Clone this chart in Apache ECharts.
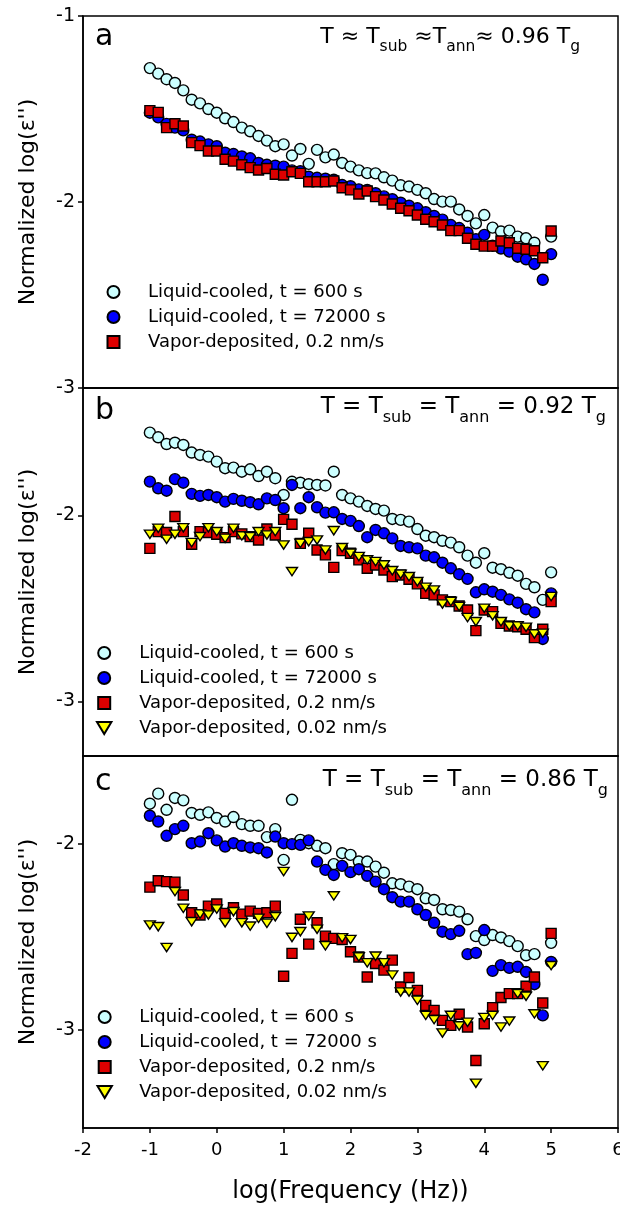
<!DOCTYPE html>
<html><head><meta charset="utf-8">
<script src="https://cdn.jsdelivr.net/npm/echarts@6/dist/echarts.min.js"></script>
<style>html,body{margin:0;padding:0;background:#fff}#c{width:620px;height:1209px}</style>
</head><body><div id="c"></div>
<script>
// log(Frequency) positions (8 points per decade)
const logFreq = [-1,-0.875,-0.75,-0.625,-0.5,-0.375,-0.25,-0.125,0,0.125,0.25,0.375,0.5,0.625,0.75,0.875,1,1.125,1.25,1.375,1.5,1.625,1.75,1.875,2,2.125,2.25,2.375,2.5,2.625,2.75,2.875,3,3.125,3.25,3.375,3.5,3.625,3.75,3.875,4,4.125,4.25,4.375,4.5,4.625,4.75,4.875,5];

// Panel a: T ≈ 0.96 Tg
const a_lc600 = [-1.28,-1.31,-1.34,-1.36,-1.40,-1.45,-1.47,-1.50,-1.52,-1.55,-1.57,-1.60,-1.62,-1.645,-1.67,-1.70,-1.69,-1.75,-1.715,-1.795,-1.72,-1.76,-1.745,-1.79,-1.81,-1.83,-1.845,-1.846,-1.867,-1.885,-1.91,-1.917,-1.935,-1.953,-1.984,-1.998,-1.998,-2.04,-2.075,-2.115,-2.07,-2.138,-2.159,-2.154,-2.186,-2.195,-2.219,null,-2.186];
const a_lc72000 = [-1.52,-1.545,-1.58,-1.60,-1.615,-1.665,-1.675,-1.69,-1.70,-1.735,-1.742,-1.755,-1.765,-1.79,-1.80,-1.805,-1.81,-1.83,-1.835,-1.864,-1.87,-1.875,-1.88,-1.909,-1.915,-1.932,-1.935,-1.953,-1.97,-1.985,-2.004,-2.02,-2.034,-2.055,-2.075,-2.095,-2.124,-2.14,-2.165,-2.20,-2.177,-2.235,-2.25,-2.267,-2.294,-2.308,-2.333,-2.418,-2.28];
const a_vd02 = [-1.509,-1.518,-1.60,-1.579,-1.591,-1.681,-1.697,-1.726,-1.726,-1.77,-1.78,-1.80,-1.815,-1.828,-1.82,-1.851,-1.855,-1.837,-1.846,-1.891,-1.891,-1.891,-1.887,-1.923,-1.935,-1.957,-1.941,-1.971,-1.989,-2.011,-2.034,-2.047,-2.07,-2.093,-2.106,-2.124,-2.154,-2.154,-2.195,-2.227,-2.237,-2.237,-2.21,-2.219,-2.249,-2.254,-2.262,-2.30,-2.156];

// Panel b: T = 0.92 Tg
const b_lc600 = [-1.556,-1.581,-1.617,-1.61,-1.622,-1.663,-1.676,-1.685,-1.712,-1.747,-1.744,-1.766,-1.753,-1.789,-1.766,-1.801,-1.891,-1.82,-1.825,-1.833,-1.837,-1.84,-1.766,-1.891,-1.909,-1.927,-1.95,-1.966,-1.975,-2.02,-2.025,-2.034,-2.074,-2.11,-2.118,-2.137,-2.147,-2.172,-2.217,-2.255,-2.204,-2.282,-2.29,-2.309,-2.325,-2.369,-2.387,-2.455,-2.307];
const b_lc72000 = [-1.819,-1.855,-1.868,-1.806,-1.825,-1.885,-1.896,-1.891,-1.903,-1.927,-1.912,-1.922,-1.93,-1.941,-1.909,-1.918,-1.962,-1.837,-1.962,-1.903,-1.957,-1.986,-1.984,-2.02,-2.03,-2.058,-2.118,-2.079,-2.097,-2.124,-2.165,-2.172,-2.178,-2.217,-2.226,-2.255,-2.285,-2.317,-2.342,-2.414,-2.398,-2.411,-2.428,-2.452,-2.47,-2.505,-2.522,-2.665,-2.42];
const b_vd02 = [-2.178,-2.088,-2.093,-2.007,-2.088,-2.156,-2.088,-2.093,-2.102,-2.12,-2.088,-2.10,-2.115,-2.133,-2.074,-2.106,-2.022,-2.048,-2.151,-2.097,-2.187,-2.213,-2.28,-2.19,-2.204,-2.24,-2.285,-2.267,-2.294,-2.33,-2.321,-2.344,-2.369,-2.42,-2.428,-2.455,-2.464,-2.488,-2.509,-2.62,-2.509,-2.518,-2.581,-2.595,-2.599,-2.613,-2.658,-2.613,-2.464];
const b_vd002 = [-2.102,-2.07,-2.129,-2.102,-2.067,-2.147,-2.115,-2.067,-2.088,-2.124,-2.07,-2.111,-2.115,-2.088,-2.106,-2.088,-2.16,-2.303,-2.151,-2.142,-2.133,-2.187,-2.083,-2.174,-2.204,-2.222,-2.24,-2.249,-2.267,-2.298,-2.317,-2.33,-2.357,-2.387,-2.402,-2.477,-2.464,-2.491,-2.55,-2.572,-2.50,-2.54,-2.572,-2.595,-2.595,-2.602,-2.638,-2.634,-2.437];

// Panel c: T = 0.86 Tg
const c_lc600 = [-1.782,-1.728,-1.815,-1.751,-1.764,-1.832,-1.842,-1.829,-1.859,-1.878,-1.854,-1.892,-1.901,-1.901,-1.962,-1.919,-2.085,-1.761,-1.977,-1.995,-2.009,-2.022,-2.108,-2.049,-2.058,-2.094,-2.094,-2.121,-2.154,-2.211,-2.216,-2.229,-2.243,-2.292,-2.301,-2.351,-2.355,-2.364,-2.405,-2.496,-2.517,-2.49,-2.503,-2.523,-2.55,-2.599,-2.593,null,-2.532];
const c_lc72000 = [-1.847,-1.878,-1.955,-1.919,-1.901,-1.995,-1.986,-1.941,-1.98,-2.013,-1.995,-2.009,-2.018,-2.022,-2.045,-1.959,-1.995,-2.0,-2.004,-1.98,-2.094,-2.139,-2.166,-2.117,-2.151,-2.135,-2.171,-2.202,-2.243,-2.286,-2.31,-2.31,-2.351,-2.382,-2.424,-2.472,-2.485,-2.467,-2.593,-2.586,-2.463,-2.683,-2.652,-2.667,-2.661,-2.689,-2.755,-2.923,-2.635];
const c_vd02 = [-2.232,-2.197,-2.202,-2.205,-2.274,-2.37,-2.382,-2.334,-2.323,-2.373,-2.343,-2.377,-2.361,-2.373,-2.37,-2.334,-2.712,-2.589,-2.405,-2.539,-2.424,-2.496,-2.508,-2.514,-2.58,-2.608,-2.716,-2.643,-2.679,-2.625,-2.77,-2.719,-2.788,-2.869,-2.896,-2.95,-2.977,-2.917,-2.986,-3.166,-2.968,-2.881,-2.827,-2.806,-2.806,-2.766,-2.716,-2.856,-2.481];
const c_vd002 = [-2.436,-2.445,-2.557,-2.256,-2.346,-2.418,-2.377,-2.382,-2.35,-2.424,-2.364,-2.424,-2.442,-2.40,-2.427,-2.391,-2.148,-2.503,-2.472,-2.388,-2.459,-2.548,-2.279,-2.505,-2.514,-2.608,-2.64,-2.604,-2.64,-2.706,-2.797,-2.797,-2.842,-2.923,-2.946,-3.018,-2.923,-2.98,-2.96,-3.289,-2.935,-2.923,-2.986,-2.954,-2.806,-2.82,-2.915,-3.195,-2.655];

const seriesNames = ['Liquid-cooled, t = 600 s','Liquid-cooled, t = 72000 s','Vapor-deposited, 0.2 nm/s','Vapor-deposited, 0.02 nm/s'];
const yTicksA = [-3,-2,-1];
const yTicksB = [-3,-2];
const yTicksC = [-3,-2];

const FONT = 'DejaVu Sans';
const styles = [
  {symbol:'circle', size:11, color:'#ccffff'},
  {symbol:'circle', size:11, color:'#0000ff'},
  {symbol:'path://M0,0L10,0L10,10L0,10Z', size:10, color:'#dd0000'},
  {symbol:'path://M0,0L12,0L6,10Z', size:[11,10], color:'#ffff00'}
];

function pairs(vals){
  const out = [];
  vals.forEach((v,i)=>{ if(v !== null) out.push([logFreq[i], v]); });
  return out;
}
function mkSeries(idx, panel, vals){
  const s = styles[idx];
  return {
    type:'scatter', name: seriesNames[idx], xAxisIndex: panel, yAxisIndex: panel,
    symbol: s.symbol, symbolSize: s.size, symbolKeepAspect: true,
    itemStyle: {color: s.color, borderColor:'#000', borderWidth:1.4, opacity:1},
    emphasis: {disabled:true},
    data: pairs(vals)
  };
}

const gridBase = {left:83, right:2, show:true, borderColor:'#000', borderWidth:1.5, containLabel:false, outerBoundsMode:'none'};
const grids = [
  Object.assign({top:16, height:372}, gridBase),
  Object.assign({top:388, height:368}, gridBase),
  Object.assign({top:756, height:372}, gridBase)
];

function mkX(i, showLabels){
  return {
    type:'value', gridIndex:i, min:-2, max:6, interval:1,
    axisLine:{show:true, onZero:false, lineStyle:{color:'#000', width:1.5}},
    axisTick:{show:showLabels, inside:false, length:5, lineStyle:{color:'#000', width:1.5}},
    axisLabel:{show:showLabels, margin:13, fontFamily:FONT, fontSize:18, color:'#000', hideOverlap:false},
    splitLine:{show:false},
    name: showLabels ? 'log(Frequency (Hz))' : '',
    nameLocation:'middle', nameGap:52,
    nameTextStyle:{fontFamily:FONT, fontSize:24, color:'#000'}
  };
}
function mkY(i, min, max, ticks){
  return {
    type:'value', gridIndex:i, min:min, max:max,
    axisLine:{show:true, onZero:false, lineStyle:{color:'#000', width:1.5}},
    axisTick:{show:true, inside:false, length:5, customValues:ticks, lineStyle:{color:'#000', width:1.5}},
    axisLabel:{show:true, margin:8, customValues:ticks, fontFamily:FONT, fontSize:19, color:'#000'},
    splitLine:{show:false},
    name:'Normalized log(ε\'\')', nameLocation:'middle', nameGap:44,
    nameTextStyle:{fontFamily:FONT, fontSize:22, color:'#000'}
  };
}

// left = icon centre - itemHeight/2 - padding (legend box starts at the icon's left edge)
function mkLegend(left, top, itemWidth, names){
  return {
    left:left, top:top, orient:'vertical', itemWidth:itemWidth, itemHeight:12, itemGap:5,
    selectedMode:false, data:names, padding:5,
    textStyle:{fontFamily:FONT, fontSize:18, color:'#000', lineHeight:20}
  };
}

function annot(rightPx, topPx, txt, main, sub){
  return {
    type:'text', right:rightPx, top:topPx, z:100,
    style:{
      text: txt,
      rich:{
        m:{fontFamily:FONT, fontSize:main, lineHeight:36, fill:'#000'},
        s:{fontFamily:FONT, fontSize:sub, lineHeight:14, verticalAlign:'bottom', fill:'#000'}
      }
    }
  };
}
function letter(leftPx, topPx, ch){
  return {type:'text', left:leftPx, top:topPx, z:100, style:{text:ch, fontFamily:FONT, fontSize:30, fill:'#000'}};
}

const option = {
  animation:false,
  backgroundColor:'#fff',
  grid: grids,
  xAxis: [mkX(0,false), mkX(1,false), mkX(2,true)],
  yAxis: [mkY(0,-3,-1,yTicksA), mkY(1,-3.294,-1.316,yTicksB), mkY(2,-3.53,-1.525,yTicksC)],
  legend: [
    mkLegend(101.5, 277, 59, seriesNames.slice(0,3)),
    mkLegend(91, 638, 60, seriesNames),
    mkLegend(91.5, 1002, 59, seriesNames)
  ],
  series: [
    mkSeries(0,0,a_lc600), mkSeries(1,0,a_lc72000), mkSeries(2,0,a_vd02),
    mkSeries(0,1,b_lc600), mkSeries(1,1,b_lc72000), mkSeries(2,1,b_vd02), mkSeries(3,1,b_vd002),
    mkSeries(0,2,c_lc600), mkSeries(1,2,c_lc72000), mkSeries(2,2,c_vd02), mkSeries(3,2,c_vd002)
  ],
  graphic: [
    letter(95, 22, 'a'), letter(95, 396, 'b'), letter(95, 767, 'c'),
    annot(40, 26, '{m|T ≈ T}{s|sub}{m| ≈T}{s|ann}{m|≈ 0.96 T}{s|g}', 22, 15.5),
    annot(14, 396, '{m|T = T}{s|sub}{m| = T}{s|ann}{m| = 0.92 T}{s|g}', 23, 16),
    annot(12, 769, '{m|T = T}{s|sub}{m| = T}{s|ann}{m| = 0.86 T}{s|g}', 23, 16)
  ]
};
const chart = echarts.init(document.getElementById('c'), null, {renderer:'canvas'});
chart.setOption(option);
</script></body></html>
